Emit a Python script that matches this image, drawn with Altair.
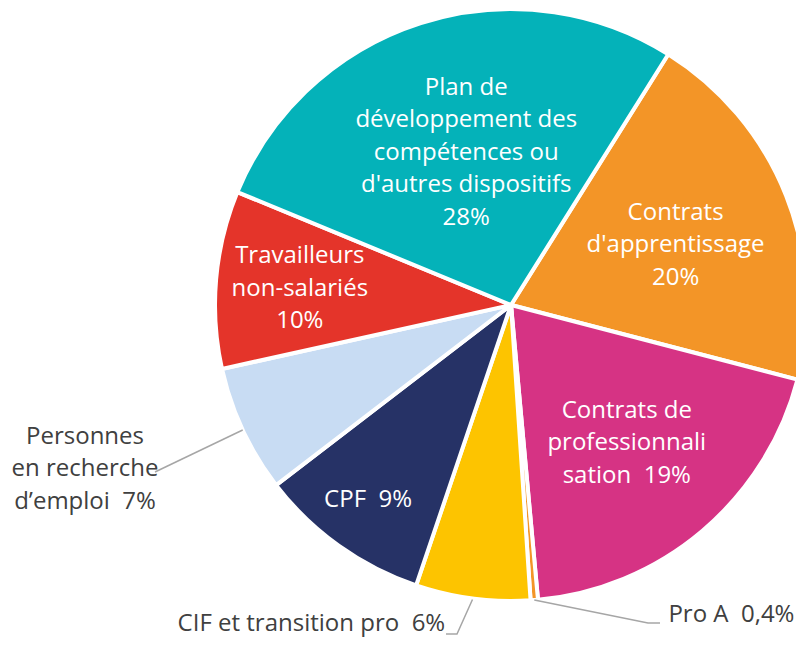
import math
import altair as alt
import pandas as pd

# ---- data ----
NB = "\u00a0 "  # keeps the double space visible in SVG
categories = [
    "Contrats d'apprentissage",
    "Contrats de professionnalisation",
    "Pro A",
    "CIF et transition pro",
    "CPF",
    "Personnes en recherche d'emploi",
    "Travailleurs non-salariés",
    "Plan de développement des compétences ou d'autres dispositifs",
]
values = [20.15, 19.5, 0.4, 6.25, 9.4, 6.95, 9.7, 27.7]
labels = [
    "Contrats\nd'apprentissage\n20%",
    "Contrats de\nprofessionnali\nsation" + NB + "19%",
    "Pro A" + NB + "0,4%",
    "CIF et transition pro" + NB + "6%",
    "CPF" + NB + "9%",
    "Personnes\nen recherche\nd’emploi" + NB + "7%",
    "Travailleurs\nnon-salariés\n10%",
    "Plan de\ndéveloppement des\ncompétences ou\nd'autres dispositifs\n28%",
]
colors = ["#F39527", "#D63384", "#F39527", "#FDC400", "#263266", "#C8DCF3", "#E4342A", "#04B2B9"]

# ---- layout ----
W, H = 788, 629
CX, CY = 503, 297
R = 296
START_DEG = 32.1
FONT = "Open Sans"
FS = 24
LH = 32.5
GRAY = "#404040"

total = sum(values)
start = math.radians(START_DEG)
theta_scale = alt.Scale(domain=[0, total], range=[start, start + 2 * math.pi])

df = pd.DataFrame({"idx": list(range(len(categories))), "cat": categories,
                   "value": values, "label": labels})
df["mid"] = df["value"].cumsum() - df["value"] / 2

arcs = alt.Chart(df).mark_arc(radius=R, stroke="white", strokeWidth=4).encode(
    theta=alt.Theta("value:Q", stack=True, scale=theta_scale),
    order=alt.Order("idx:Q"),
    color=alt.Color("cat:N", scale=alt.Scale(domain=categories, range=colors), legend=None),
    x=alt.value(CX),
    y=alt.value(CY),
)

# label styling: radius, dx, dy, colour, align
label_style = {
    categories[0]: (176, 1, 5, "white", "center"),
    categories[1]: (179, 0, 2, "white", "center"),
    categories[2]: (310, 133, 1, GRAY, "left"),
    categories[3]: (330, -23, -8, GRAY, "right"),
    categories[4]: (242, -2, -2, "white", "center"),
    categories[5]: (460, -9, -30, GRAY, "center"),
    categories[6]: (212, 0, 2, "white", "center"),
    categories[7]: (160, 4, 0, "white", "center"),
}

texts = []
for (cat, (r, dx, dy, col, al)), lab in zip(label_style.items(), labels):
    n_lines = lab.count("\n") + 1
    texts.append(
        alt.Chart(df)
        .transform_filter(alt.FieldEqualPredicate(field="cat", equal=cat))
        .mark_text(radius=r, dx=dx, dy=dy - (n_lines - 1) * LH / 2, align=al,
                   baseline="middle", lineBreak="\n", lineHeight=LH,
                   font=FONT, fontSize=FS, color=col)
        .encode(theta=alt.Theta("mid:Q", scale=theta_scale), text="label:N",
                x=alt.value(CX), y=alt.value(CY))
    )


def polar(v, r):
    ang = start + 2 * math.pi * v / total
    return CX + r * math.sin(ang), CY - r * math.cos(ang)


mids = dict(zip(df["cat"], df["mid"]))
leader_paths = {
    categories[5]: [polar(mids[categories[5]], R), (147, 464)],
    categories[2]: [polar(mids[categories[2]], R), (640, 615), (652, 615)],
    categories[3]: [polar(mids[categories[3]], R + 1), (449, 626), (438, 626)],
}
rows = []
for k, pts in leader_paths.items():
    for i, (px, py) in enumerate(pts):
        rows.append({"leader": k, "step": i, "x": px, "y": py})
lines_df = pd.DataFrame(rows)

lines = alt.Chart(lines_df).mark_line(color="#A6A6A6", strokeWidth=1.5).encode(
    x=alt.X("x:Q", scale=None, axis=None),
    y=alt.Y("y:Q", scale=None, axis=None),
    detail="leader:N",
    order="step:Q",
)

chart = (
    alt.layer(arcs, lines, *texts)
    .properties(width=W, height=H, padding=0, autosize="none", background="white")
    .configure_view(stroke=None)
)

chart.save("out.html", embed_options={"renderer": "svg", "actions": False})
